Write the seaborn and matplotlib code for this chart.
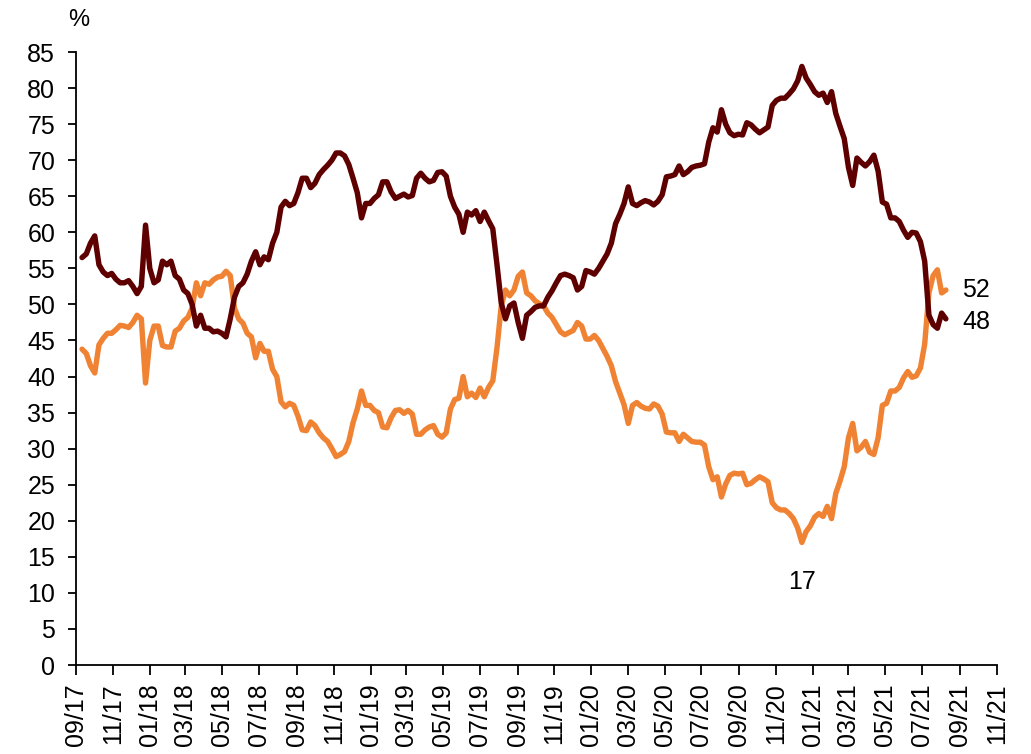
import pandas as pd
import seaborn as sns
import matplotlib.pyplot as plt
import matplotlib.dates as mdates

# weekly readings, first week 11 Sep 2017
start_week = '2017-09-11'

dark_values = [
    56.5, 57.0, 58.5, 59.5, 55.5, 54.5, 54.0, 54.3, 53.5, 53.0,
    53.0, 53.3, 52.5, 51.5, 52.5, 61.0, 55.0, 53.0, 53.4, 56.0,
    55.5, 56.0, 54.0, 53.5, 52.0, 51.5, 50.0, 47.0, 48.5, 46.7,
    46.7, 46.2, 46.3, 46.0, 45.5, 48.0, 51.0, 52.5, 53.0, 54.2,
    56.0, 57.3, 55.5, 56.6, 56.2, 58.5, 60.0, 63.5, 64.3, 63.7,
    64.0, 65.5, 67.5, 67.5, 66.2, 66.8, 68.0, 68.7, 69.3, 70.0,
    71.0, 71.0, 70.6, 69.4, 67.5, 65.5, 62.0, 64.0, 64.0, 64.7,
    65.2, 67.0, 67.0, 65.6, 64.7, 65.0, 65.3, 64.9, 65.1, 67.5,
    68.2, 67.5, 67.0, 67.2, 68.3, 68.4, 67.8, 65.0, 63.5, 62.5,
    60.0, 62.8, 62.4, 63.0, 61.5, 62.8, 61.6, 60.5, 55.5, 50.2,
    48.0, 49.8, 50.2, 47.5, 45.3, 48.5, 49.0, 49.6, 49.8, 49.8,
    51.0, 51.9, 53.0, 54.0, 54.2, 54.0, 53.7, 52.0, 52.5, 54.7,
    54.5, 54.2, 55.0, 56.0, 57.0, 58.5, 61.2, 62.5, 64.0, 66.3,
    64.0, 63.7, 64.1, 64.4, 64.2, 63.8, 64.3, 65.2, 67.7, 67.8,
    68.0, 69.2, 68.0, 68.4, 69.0, 69.2, 69.3, 69.5, 72.5, 74.5,
    73.9, 77.0, 75.0, 73.8, 73.4, 73.6, 73.5, 75.2, 74.9, 74.3,
    73.8, 74.2, 74.6, 77.6, 78.3, 78.6, 78.6, 79.2, 79.9, 81.0,
    83.0, 81.4, 80.5, 79.5, 79.0, 79.3, 78.0, 79.5, 76.5, 74.7,
    73.0, 69.0, 66.5, 70.3, 69.7, 69.2, 69.8, 70.7, 68.5, 64.2,
    63.9, 62.0, 62.0, 61.5, 60.3, 59.3, 60.0, 59.9, 58.7, 56.0,
    48.5, 47.2, 46.7, 48.8, 48.0,
]

orange_values = [
    43.8, 43.2, 41.5, 40.5, 44.4, 45.3, 46.0, 46.0, 46.5, 47.1,
    47.0, 46.8, 47.5, 48.5, 48.0, 39.1, 45.0, 47.0, 47.0, 44.3,
    44.1, 44.1, 46.3, 46.7, 47.7, 48.2, 49.5, 53.0, 51.2, 53.0,
    52.8, 53.4, 53.8, 53.9, 54.6, 54.0, 49.5, 48.0, 47.4, 46.0,
    45.5, 42.6, 44.6, 43.5, 43.5, 41.0, 40.0, 36.5, 35.8, 36.3,
    36.0, 34.5, 32.6, 32.5, 33.7, 33.2, 32.2, 31.5, 31.0, 30.0,
    28.9, 29.2, 29.6, 31.0, 33.6, 35.5, 38.0, 36.0, 36.0, 35.3,
    35.0, 33.0, 32.9, 34.3, 35.3, 35.4, 34.9, 35.3, 34.8, 32.0,
    32.0, 32.6, 33.0, 33.2, 32.0, 31.6, 32.2, 35.5, 36.8, 37.0,
    40.0, 37.2, 37.7, 37.1, 38.4, 37.2, 38.5, 39.4, 44.0, 49.8,
    52.0, 51.2, 52.0, 53.9, 54.5, 51.6, 51.2, 50.5, 50.1, 49.8,
    48.8, 48.2, 47.2, 46.2, 45.8, 46.1, 46.4, 47.5, 47.0, 45.2,
    45.2, 45.7, 45.0, 43.9, 42.8, 41.5, 39.3, 37.7, 36.1, 33.5,
    36.0, 36.4, 35.9, 35.6, 35.5, 36.2, 35.9, 34.8, 32.3, 32.2,
    32.2, 31.0, 32.0, 31.5, 31.0, 30.9, 30.9, 30.5, 27.5, 25.7,
    26.1, 23.3, 25.1, 26.3, 26.6, 26.5, 26.6, 25.0, 25.2, 25.7,
    26.1, 25.8, 25.4, 22.5, 21.8, 21.5, 21.5, 21.0, 20.3, 19.0,
    17.0, 18.5, 19.3, 20.5, 21.0, 20.6, 22.0, 20.3, 23.8, 25.5,
    27.5, 31.5, 33.5, 29.7, 30.2, 31.0, 29.5, 29.2, 31.5, 36.0,
    36.3, 38.0, 38.0, 38.5, 39.8, 40.7, 39.9, 40.1, 41.2, 44.5,
    51.6, 54.0, 54.8, 51.6, 52.0,
]

dark_color = '#5e0000'
orange_color = '#f08333'

weeks = pd.date_range(start_week, periods=len(dark_values), freq='7D')
df = pd.DataFrame({'week': weeks, 'dark': dark_values, 'orange': orange_values})

sns.set_style('ticks')
plt.rcParams['font.family'] = ['Liberation Sans', 'DejaVu Sans']
plt.rcParams['text.color'] = 'black'
plt.rcParams['xtick.color'] = 'black'
plt.rcParams['ytick.color'] = 'black'

fig = plt.figure(figsize=(10.31, 7.54), dpi=100)
ax = fig.add_axes([0.0737, 0.118, 0.893, 0.813])

sns.lineplot(x='week', y='orange', data=df, color=orange_color, linewidth=3.9, ax=ax)
sns.lineplot(x='week', y='dark', data=df, color=dark_color, linewidth=3.9, ax=ax)

ax.set_ylim(0, 85)
ax.set_yticks(range(0, 86, 5))
ax.set_xlim(pd.Timestamp('2017-09-01'), pd.Timestamp('2021-11-01'))
ax.xaxis.set_major_locator(mdates.MonthLocator(bymonth=[1, 3, 5, 7, 9, 11]))
ax.xaxis.set_major_formatter(mdates.DateFormatter('%m/%y'))
ax.tick_params(axis='x', labelrotation=90, labelsize=18, length=7, width=1.3, pad=6)
ax.tick_params(axis='y', labelsize=18, length=6, width=1.3, pad=9)
ax.set_xlabel('')
ax.set_ylabel('')
for side in ['left', 'bottom']:
    ax.spines[side].set_linewidth(1.3)
    ax.spines[side].set_color('black')
sns.despine(ax=ax)

ax.text(-0.008, 1.035, '%', transform=ax.transAxes, fontsize=17, ha='left', va='bottom')

last_week = df['week'].iloc[-1]
ax.annotate('52', (last_week, orange_values[-1]), xytext=(12, 0), textcoords='offset points',
            fontsize=18, va='center', ha='left')
ax.annotate('48', (last_week, dark_values[-1]), xytext=(12, -2), textcoords='offset points',
            fontsize=18, va='center', ha='left')
low_idx = orange_values.index(min(orange_values))
ax.annotate('17', (df['week'].iloc[low_idx], orange_values[low_idx]), xytext=(0, -20),
            textcoords='offset points', fontsize=18, ha='center', va='top')

fig.savefig('out.png', dpi=100)
